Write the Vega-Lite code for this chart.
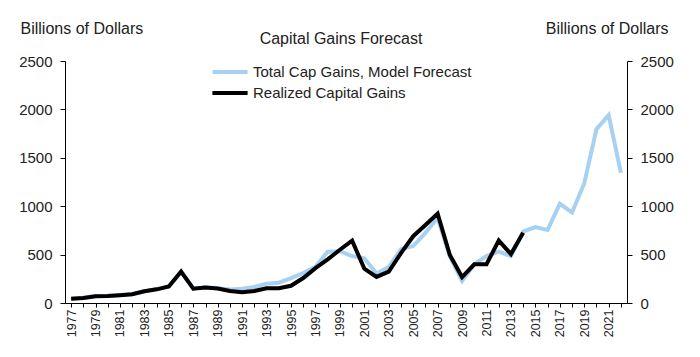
{
  "$schema": "https://vega.github.io/schema/vega-lite/v6.json",
  "width": 562,
  "height": 242,
  "autosize": {"type": "none"},
  "padding": {"left": 65, "top": 61, "right": 73, "bottom": 54},
  "background": "white",
  "config": {
    "font": "Liberation Sans",
    "view": {"stroke": null},
    "axis": {"grid": false, "domainColor": "black", "tickColor": "black", "labelColor": "#222", "titleColor": "#222"}
  },
  "title": {
    "text": "Capital Gains Forecast",
    "fontSize": 16,
    "fontWeight": "normal",
    "color": "#222",
    "anchor": "middle",
    "baseline": "alphabetic",
    "offset": -40,
    "dx": -5
  },
  "data": {
    "values": [
      {"year": 1977, "series": "Total Cap Gains, Model Forecast", "value": 45},
      {"year": 1978, "series": "Total Cap Gains, Model Forecast", "value": 55},
      {"year": 1979, "series": "Total Cap Gains, Model Forecast", "value": 72},
      {"year": 1980, "series": "Total Cap Gains, Model Forecast", "value": 75},
      {"year": 1981, "series": "Total Cap Gains, Model Forecast", "value": 82},
      {"year": 1982, "series": "Total Cap Gains, Model Forecast", "value": 90},
      {"year": 1983, "series": "Total Cap Gains, Model Forecast", "value": 122},
      {"year": 1984, "series": "Total Cap Gains, Model Forecast", "value": 141},
      {"year": 1985, "series": "Total Cap Gains, Model Forecast", "value": 172},
      {"year": 1986, "series": "Total Cap Gains, Model Forecast", "value": 320},
      {"year": 1987, "series": "Total Cap Gains, Model Forecast", "value": 150},
      {"year": 1988, "series": "Total Cap Gains, Model Forecast", "value": 162},
      {"year": 1989, "series": "Total Cap Gains, Model Forecast", "value": 152},
      {"year": 1990, "series": "Total Cap Gains, Model Forecast", "value": 140},
      {"year": 1991, "series": "Total Cap Gains, Model Forecast", "value": 148},
      {"year": 1992, "series": "Total Cap Gains, Model Forecast", "value": 165},
      {"year": 1993, "series": "Total Cap Gains, Model Forecast", "value": 200},
      {"year": 1994, "series": "Total Cap Gains, Model Forecast", "value": 210},
      {"year": 1995, "series": "Total Cap Gains, Model Forecast", "value": 258},
      {"year": 1996, "series": "Total Cap Gains, Model Forecast", "value": 310},
      {"year": 1997, "series": "Total Cap Gains, Model Forecast", "value": 375},
      {"year": 1998, "series": "Total Cap Gains, Model Forecast", "value": 530},
      {"year": 1999, "series": "Total Cap Gains, Model Forecast", "value": 535},
      {"year": 2000, "series": "Total Cap Gains, Model Forecast", "value": 485},
      {"year": 2001, "series": "Total Cap Gains, Model Forecast", "value": 462},
      {"year": 2002, "series": "Total Cap Gains, Model Forecast", "value": 305},
      {"year": 2003, "series": "Total Cap Gains, Model Forecast", "value": 372},
      {"year": 2004, "series": "Total Cap Gains, Model Forecast", "value": 555},
      {"year": 2005, "series": "Total Cap Gains, Model Forecast", "value": 588},
      {"year": 2006, "series": "Total Cap Gains, Model Forecast", "value": 725},
      {"year": 2007, "series": "Total Cap Gains, Model Forecast", "value": 880},
      {"year": 2008, "series": "Total Cap Gains, Model Forecast", "value": 480},
      {"year": 2009, "series": "Total Cap Gains, Model Forecast", "value": 229},
      {"year": 2010, "series": "Total Cap Gains, Model Forecast", "value": 400},
      {"year": 2011, "series": "Total Cap Gains, Model Forecast", "value": 485},
      {"year": 2012, "series": "Total Cap Gains, Model Forecast", "value": 530},
      {"year": 2013, "series": "Total Cap Gains, Model Forecast", "value": 485},
      {"year": 2014, "series": "Total Cap Gains, Model Forecast", "value": 738},
      {"year": 2015, "series": "Total Cap Gains, Model Forecast", "value": 785},
      {"year": 2016, "series": "Total Cap Gains, Model Forecast", "value": 755},
      {"year": 2017, "series": "Total Cap Gains, Model Forecast", "value": 1025},
      {"year": 2018, "series": "Total Cap Gains, Model Forecast", "value": 935},
      {"year": 2019, "series": "Total Cap Gains, Model Forecast", "value": 1235},
      {"year": 2020, "series": "Total Cap Gains, Model Forecast", "value": 1795},
      {"year": 2021, "series": "Total Cap Gains, Model Forecast", "value": 1940},
      {"year": 2022, "series": "Total Cap Gains, Model Forecast", "value": 1345},
      {"year": 1977, "series": "Realized Capital Gains", "value": 45},
      {"year": 1978, "series": "Realized Capital Gains", "value": 51},
      {"year": 1979, "series": "Realized Capital Gains", "value": 70},
      {"year": 1980, "series": "Realized Capital Gains", "value": 72},
      {"year": 1981, "series": "Realized Capital Gains", "value": 80},
      {"year": 1982, "series": "Realized Capital Gains", "value": 90},
      {"year": 1983, "series": "Realized Capital Gains", "value": 122},
      {"year": 1984, "series": "Realized Capital Gains", "value": 141},
      {"year": 1985, "series": "Realized Capital Gains", "value": 170},
      {"year": 1986, "series": "Realized Capital Gains", "value": 325},
      {"year": 1987, "series": "Realized Capital Gains", "value": 148},
      {"year": 1988, "series": "Realized Capital Gains", "value": 160},
      {"year": 1989, "series": "Realized Capital Gains", "value": 150},
      {"year": 1990, "series": "Realized Capital Gains", "value": 124},
      {"year": 1991, "series": "Realized Capital Gains", "value": 110},
      {"year": 1992, "series": "Realized Capital Gains", "value": 125},
      {"year": 1993, "series": "Realized Capital Gains", "value": 152},
      {"year": 1994, "series": "Realized Capital Gains", "value": 153},
      {"year": 1995, "series": "Realized Capital Gains", "value": 178},
      {"year": 1996, "series": "Realized Capital Gains", "value": 258},
      {"year": 1997, "series": "Realized Capital Gains", "value": 360},
      {"year": 1998, "series": "Realized Capital Gains", "value": 450},
      {"year": 1999, "series": "Realized Capital Gains", "value": 550},
      {"year": 2000, "series": "Realized Capital Gains", "value": 644},
      {"year": 2001, "series": "Realized Capital Gains", "value": 355},
      {"year": 2002, "series": "Realized Capital Gains", "value": 270},
      {"year": 2003, "series": "Realized Capital Gains", "value": 325},
      {"year": 2004, "series": "Realized Capital Gains", "value": 515},
      {"year": 2005, "series": "Realized Capital Gains", "value": 690},
      {"year": 2006, "series": "Realized Capital Gains", "value": 805},
      {"year": 2007, "series": "Realized Capital Gains", "value": 922},
      {"year": 2008, "series": "Realized Capital Gains", "value": 495},
      {"year": 2009, "series": "Realized Capital Gains", "value": 268},
      {"year": 2010, "series": "Realized Capital Gains", "value": 400},
      {"year": 2011, "series": "Realized Capital Gains", "value": 400},
      {"year": 2012, "series": "Realized Capital Gains", "value": 645},
      {"year": 2013, "series": "Realized Capital Gains", "value": 505},
      {"year": 2014, "series": "Realized Capital Gains", "value": 725}
    ]
  },
  "encoding": {
    "x": {
      "field": "year",
      "type": "ordinal",
      "scale": {"type": "point", "padding": 0.5},
      "axis": {
        "title": null,
        "labelAngle": -90,
        "labelFontSize": 12.5,
        "labelPadding": 2,
        "tickSize": 4,
        "labelExpr": "datum.value % 2 == 1 ? datum.label : ''"
      }
    }
  },
  "layer": [
    {
      "layer": [
        {
          "transform": [{"filter": "datum.series == 'Total Cap Gains, Model Forecast'"}],
          "mark": {"type": "line", "strokeWidth": 4, "strokeJoin": "miter"},
          "encoding": {
            "y": {"field": "value", "type": "quantitative"},
            "color": {"field": "series", "type": "nominal"}
          }
        },
        {
          "transform": [{"filter": "datum.series == 'Realized Capital Gains'"}],
          "mark": {"type": "line", "strokeWidth": 4, "strokeJoin": "miter"},
          "encoding": {
            "y": {"field": "value", "type": "quantitative"},
            "color": {"field": "series", "type": "nominal"}
          }
        }
      ],
      "encoding": {
        "y": {
          "field": "value",
          "type": "quantitative",
          "scale": {"domain": [0, 2500], "nice": false},
          "axis": {
            "orient": "left",
            "values": [0, 500, 1000, 1500, 2000, 2500],
            "format": "d",
            "tickSize": 5,
            "labelPadding": 8,
            "labelFontSize": 15,
            "title": "Billions of Dollars",
            "titleAngle": 0,
            "titleX": -45,
            "titleY": -28,
            "titleAlign": "left",
            "titleBaseline": "alphabetic",
            "titleFontWeight": "normal",
            "titleFontSize": 16
          }
        },
        "color": {
          "field": "series",
          "type": "nominal",
          "scale": {
            "domain": ["Total Cap Gains, Model Forecast", "Realized Capital Gains"],
            "range": ["#a6d1f2", "#000000"]
          },
          "legend": {
            "title": null,
            "orient": "none",
            "legendX": 152,
            "legendY": -2,
            "symbolType": "M-1.6,0H1.6",
            "symbolStrokeWidth": 4,
            "symbolSize": 484,
            "labelFontSize": 15,
            "labelLimit": 400,
            "labelColor": "#222",
            "labelOffset": 10,
            "rowPadding": 0
          }
        }
      }
    },
    {
      "mark": {"type": "line", "opacity": 0},
      "encoding": {
        "y": {
          "field": "value",
          "type": "quantitative",
          "scale": {"domain": [0, 2500], "nice": false},
          "axis": {
            "orient": "right",
            "values": [0, 500, 1000, 1500, 2000, 2500],
            "format": "d",
            "tickSize": 5,
            "labelPadding": 8,
            "labelFontSize": 15,
            "title": "Billions of Dollars",
            "titleAngle": 0,
            "titleX": 41,
            "titleY": -28,
            "titleAlign": "right",
            "titleBaseline": "alphabetic",
            "titleFontWeight": "normal",
            "titleFontSize": 16
          }
        }
      }
    }
  ],
  "resolve": {"scale": {"y": "independent"}}
}
